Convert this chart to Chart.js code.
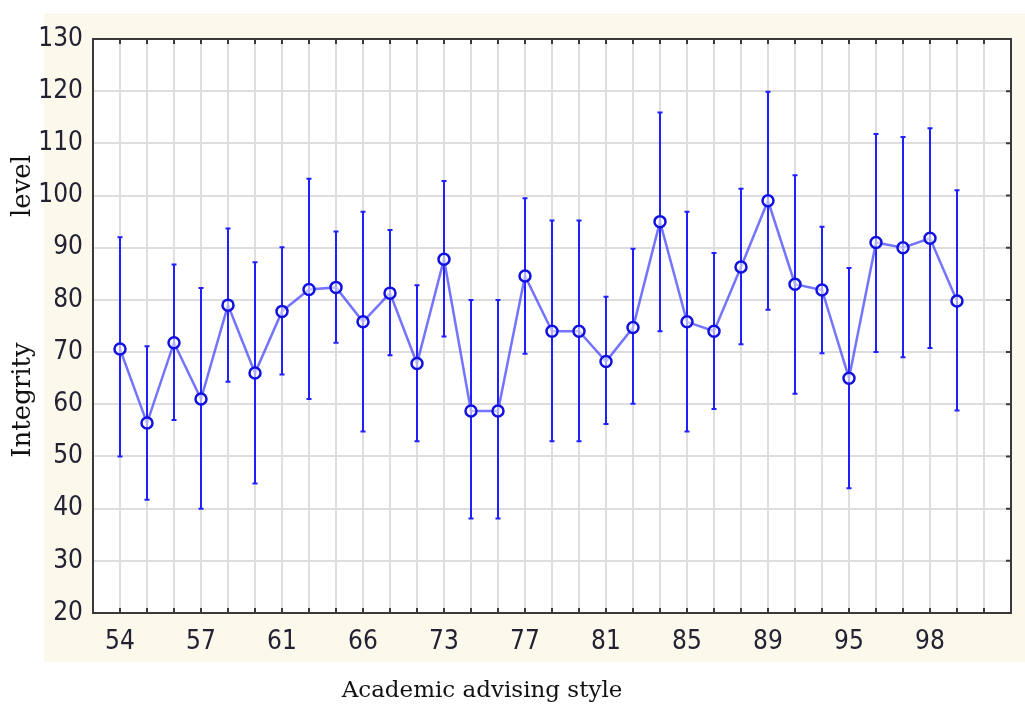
<!DOCTYPE html>
<html lang="en">
<head>
    <meta charset="UTF-8">
    <title>Integrity level by academic advising style</title>
    <script src="https://cdn.jsdelivr.net/npm/chart.js"></script>
    <style>
        html, body {
            margin: 0;
            padding: 0;
            background-color: white;
        }
        #wrap {
            width: 1025px;
            height: 705px;
        }
    </style>
</head>
<body>
    <div id="wrap"><canvas id="errChart" width="1025" height="705"></canvas></div>

    <script>
        // tick labels shown under every third category
        const tickLabels = ['54', '57', '61', '66', '73', '77', '81', '85', '89', '95', '98'];
        const categoryCount = 33; // last slot is empty

        // means and error bar ends
        const means = [70.6, 56.4, 71.8, 61.0, 79.0, 66.0, 77.8, 82.0, 82.4, 75.8,
                       81.3, 67.8, 87.8, 58.7, 58.7, 84.6, 74.0, 74.0, 68.2, 74.7,
                       95.0, 75.8, 74.0, 86.3, 99.0, 83.0, 81.9, 65.0, 91.0, 90.0,
                       91.8, 79.8];
        const upper = [92.0, 71.1, 86.8, 82.3, 93.7, 87.2, 90.1, 103.2, 93.1, 96.9,
                       93.4, 82.8, 102.8, 80.0, 80.0, 99.5, 95.2, 95.2, 80.6, 89.8,
                       115.9, 96.9, 89.0, 101.3, 119.9, 103.9, 94.0, 86.1, 111.8, 111.2,
                       112.9, 101.0];
        const lower = [50.0, 41.7, 57.0, 40.0, 64.3, 44.8, 65.7, 61.0, 71.8, 54.8,
                       69.4, 52.9, 73.0, 38.1, 38.1, 69.7, 52.9, 52.9, 56.2, 60.1,
                       74.0, 54.8, 59.1, 71.5, 78.1, 62.0, 69.8, 43.9, 70.0, 69.0,
                       70.8, 58.8];

        const creamBg = {
            id: 'creamBg',
            beforeDraw(chart) {
                const ctx = chart.ctx;
                const a = chart.chartArea;
                ctx.save();
                ctx.fillStyle = '#fdf8ec';
                ctx.fillRect(44, 13, 981, 649);
                ctx.fillStyle = 'white';
                ctx.fillRect(a.left, a.top, a.right - a.left, a.bottom - a.top);
                ctx.restore();
            }
        };

        // vertical error bars with small caps
        const errorBars = {
            id: 'errorBars',
            beforeDatasetsDraw(chart) {
                const ctx = chart.ctx;
                const xs = chart.scales.x;
                const ys = chart.scales.y;
                ctx.save();
                ctx.strokeStyle = '#1f1fff';
                ctx.lineWidth = 2;
                for (let i = 0; i < means.length; i++) {
                    const px = xs.getPixelForValue(i);
                    const top = ys.getPixelForValue(upper[i]);
                    const bot = ys.getPixelForValue(lower[i]);
                    ctx.beginPath();
                    ctx.moveTo(px, top);
                    ctx.lineTo(px, bot);
                    ctx.moveTo(px - 2.5, top);
                    ctx.lineTo(px + 2.5, top);
                    ctx.moveTo(px - 2.5, bot);
                    ctx.lineTo(px + 2.5, bot);
                    ctx.stroke();
                }
                ctx.restore();
            }
        };

        // frame, inward tick marks and axis titles
        const frame = {
            id: 'frame',
            afterDraw(chart) {
                const ctx = chart.ctx;
                const a = chart.chartArea;
                const xs = chart.scales.x;
                const ys = chart.scales.y;
                ctx.save();
                ctx.strokeStyle = '#3a3a3a';
                ctx.lineWidth = 2;
                ctx.strokeRect(a.left, a.top, a.right - a.left, a.bottom - a.top);
                ctx.beginPath();
                for (let i = 0; i < categoryCount; i++) {
                    const px = xs.getPixelForValue(i);
                    ctx.moveTo(px, a.top);
                    ctx.lineTo(px, a.top + 5);
                    ctx.moveTo(px, a.bottom);
                    ctx.lineTo(px, a.bottom - 5);
                }
                for (let v = 30; v < 130; v += 10) {
                    const py = ys.getPixelForValue(v);
                    ctx.moveTo(a.right, py);
                    ctx.lineTo(a.right - 5, py);
                }
                ctx.stroke();

                ctx.fillStyle = '#111';
                ctx.font = '23px "DejaVu Serif", serif';
                ctx.textAlign = 'center';
                ctx.textBaseline = 'alphabetic';
                ctx.fillText('Academic advising style', 482, 697);

                ctx.font = '26px "DejaVu Serif", serif';
                ctx.translate(30, 0);
                ctx.rotate(-Math.PI / 2);
                ctx.fillText('level', -186, 0);
                ctx.fillText('Integrity', -400, 0);
                ctx.restore();
            }
        };

        const tickFont = { family: '"Liberation Sans Narrow", "DejaVu Sans Condensed", Arial, sans-serif', size: 26 };

        new Chart(document.getElementById('errChart').getContext('2d'), {
            type: 'line',
            data: {
                datasets: [{
                    data: means.map((m, i) => ({ x: i, y: m })),
                    borderColor: 'rgba(70, 70, 255, 0.75)',
                    borderWidth: 2.5,
                    pointRadius: 5.5,
                    pointBorderWidth: 2.5,
                    pointBorderColor: '#1010e0',
                    pointBackgroundColor: 'rgba(255, 255, 255, 0.6)',
                    tension: 0
                }]
            },
            options: {
                responsive: false,
                animation: false,
                layout: { padding: { left: 0, top: 39, right: 8, bottom: 0 } },
                plugins: {
                    legend: { display: false },
                    tooltip: { enabled: false }
                },
                scales: {
                    x: {
                        type: 'linear',
                        min: -1,
                        max: categoryCount,
                        afterBuildTicks(scale) {
                            const t = [];
                            for (let v = -1; v <= categoryCount; v++) t.push({ value: v });
                            scale.ticks = t;
                        },
                        afterFit(scale) { scale.height = 92; },
                        grid: { color: '#dedede', lineWidth: 2, drawTicks: false },
                        border: { color: '#3a3a3a', width: 2 },
                        ticks: {
                            autoSkip: false,
                            maxRotation: 0,
                            padding: 14,
                            color: '#222233',
                            font: tickFont,
                            callback(v) {
                                if (v >= 0 && v % 3 === 0 && v / 3 < tickLabels.length) return tickLabels[v / 3];
                                return '';
                            }
                        }
                    },
                    y: {
                        min: 20,
                        max: 130,
                        afterFit(scale) { scale.width = 93; },
                        grid: { color: '#dedede', lineWidth: 2, drawTicks: false },
                        border: { color: '#3a3a3a', width: 2 },
                        ticks: {
                            stepSize: 10,
                            padding: 10,
                            color: '#222233',
                            font: tickFont
                        }
                    }
                }
            },
            plugins: [creamBg, errorBars, frame]
        });
    </script>
</body>
</html>
